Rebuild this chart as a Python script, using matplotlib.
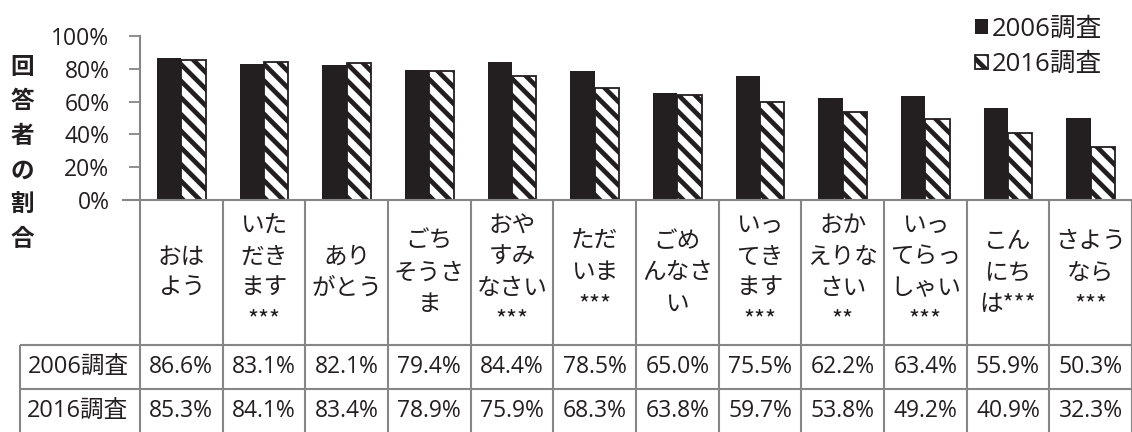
import numpy as np
import matplotlib
matplotlib.use("Agg")
import matplotlib.pyplot as plt
from matplotlib import transforms
from matplotlib.lines import Line2D

FAMILY = ['Open Sans', 'Noto Sans CJK JP', 'DejaVu Sans']
JP_FAMILY = ['Noto Sans CJK JP', 'DejaVu Sans']
plt.rcParams['font.family'] = FAMILY
plt.rcParams['hatch.linewidth'] = 3.4

categories = ["おは\nよう", "いた\nだき\nます\n***", "あり\nがとう", "ごち\nそうさ\nま",
              "おや\nすみ\nなさい\n***", "ただ\nいま\n***", "ごめ\nんなさ\nい",
              "いっ\nてき\nます\n***", "おか\nえりな\nさい\n**", "いっ\nてらっ\nしゃい\n***",
              "こん\nにち\nは***", "さよう\nなら\n***"]
series_names = ["2006調査", "2016調査"]
values_2006 = [86.6, 83.1, 82.1, 79.4, 84.4, 78.5, 65.0, 75.5, 62.2, 63.4, 55.9, 50.3]
values_2016 = [85.3, 84.1, 83.4, 78.9, 75.9, 68.3, 63.8, 59.7, 53.8, 49.2, 40.9, 32.3]
y_ticks = [0, 20, 40, 60, 80, 100]
y_title = "回答者の割合"

INK = '#231f20'
GRID = '#868686'
W, H = 1132, 432

fig = plt.figure(figsize=(W / 100, H / 100), dpi=100)
ax = fig.add_axes([140 / W, (H - 200) / H, 992 / W, 164 / H])

n = len(categories)
x = np.arange(n)
bw = 0.296
b1 = ax.bar(x - bw / 2, values_2006, bw, color=INK, linewidth=0)
b2 = ax.bar(x + bw / 2, values_2016, bw, color='white', edgecolor=INK,
            hatch='\\\\', linewidth=1.3)

ax.set_xlim(-0.5, n - 0.5)
ax.set_ylim(0, 100)
ax.set_yticks(y_ticks)
ax.set_yticklabels([f"{t}%" for t in y_ticks], fontsize=16.5, color=INK)
ax.set_xticks([])
ax.tick_params(axis='y', length=8, width=1.3, color=GRID, pad=14)
for s in ['top', 'right', 'bottom']:
    ax.spines[s].set_visible(False)
ax.spines['left'].set_color(GRID)
ax.spines['left'].set_linewidth(1.5)

# data table underneath the plot
bt = transforms.blended_transform_factory(ax.transData, fig.transFigure)
ft = fig.transFigure


def fy(py):
    return 1 - py / H


def fx(px):
    return px / W


line_kw = dict(color=GRID, linewidth=1.5, solid_capstyle='butt')
# axis baseline
fig.add_artist(Line2D([fx(122), fx(W)], [fy(200), fy(200)], transform=ft, **line_kw))
# column dividers
for i in range(n + 1):
    fig.add_artist(Line2D([i - 0.5, i - 0.5], [fy(200), fy(H)], transform=bt, **line_kw))
# row lines and row-label column
for py in (345, 389):
    fig.add_artist(Line2D([fx(20), fx(W)], [fy(py), fy(py)], transform=ft, **line_kw))
fig.add_artist(Line2D([fx(20), fx(20)], [fy(345), fy(H)], transform=ft, **line_kw))

for i, lab in enumerate(categories):
    fig.text(i, fy(273), lab, transform=bt, ha='center', va='center',
             multialignment='center', fontsize=17, color=INK, linespacing=1.47,
             family=JP_FAMILY)

for row_y, name, vals in ((367, series_names[0], values_2006),
                          (411, series_names[1], values_2016)):
    fig.text(fx(78), fy(row_y), name, transform=ft, ha='center', va='center',
             fontsize=17, color=INK)
    for i, v in enumerate(vals):
        fig.text(i, fy(row_y), f"{v:.1f}%", transform=bt, ha='center', va='center',
                 fontsize=16.5, color=INK)

# vertical axis title, one character per line
fig.text(fx(22), fy(153), "\n".join(y_title), transform=ft, ha='center', va='center',
         fontsize=17, fontweight='bold', color=INK, linespacing=1.55,
         family=JP_FAMILY)

fig.legend([b1, b2], series_names, loc='upper left',
           bbox_to_anchor=(fx(958), fy(0)), frameon=False, fontsize=18.5,
           handlelength=0.5, handleheight=0.5, handletextpad=0.15,
           labelspacing=0.4, borderpad=0.15, labelcolor=INK)

fig.savefig("out.png", dpi=100)
